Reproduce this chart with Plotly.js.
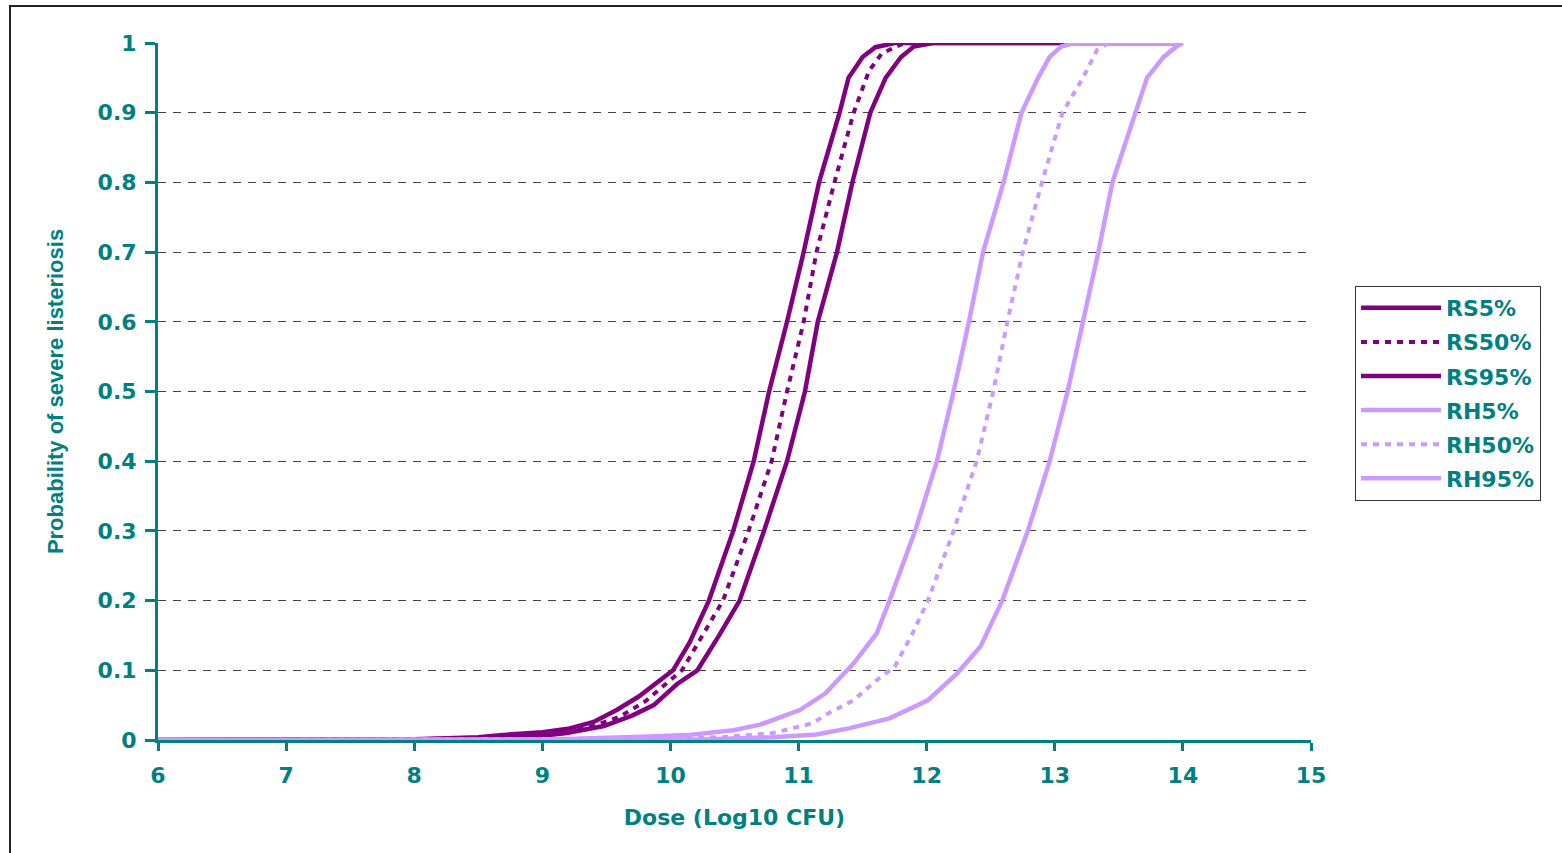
<!DOCTYPE html>
<html>
<head>
<meta charset="utf-8">
<script src="https://cdn.plot.ly/plotly-3.0.1.min.js"></script>
<style>
  html, body { margin: 0; padding: 0; background: #fff; }
  #chart { width: 1562px; height: 853px; }
</style>
</head>
<body>
<div id="chart"></div>
<script>
// ---- data ----
const seriesNames = ["RS5%", "RS50%", "RS95%", "RH5%", "RH50%", "RH95%"];

const rs5Dose = [6, 7.5, 8.0, 8.5, 8.67, 9.0, 9.2, 9.4, 9.58, 9.75, 9.92, 10.02, 10.15, 10.3, 10.49, 10.65, 10.77, 10.91, 11.04, 11.16, 11.32, 11.39, 11.5, 11.6, 11.75, 14];
const rs5Prob = [0, 0, 0.001, 0.004, 0.007, 0.011, 0.016, 0.026, 0.043, 0.062, 0.086, 0.1, 0.14, 0.2, 0.3, 0.4, 0.5, 0.6, 0.7, 0.8, 0.9, 0.95, 0.98, 0.994, 1, 1];

const rs50Dose = [6, 7.5, 8.0, 8.5, 9.0, 9.4, 9.6, 9.8, 10.09, 10.25, 10.41, 10.61, 10.79, 10.91, 11.04, 11.14, 11.28, 11.43, 11.55, 11.65, 11.8, 11.9, 14];
const rs50Prob = [0, 0, 0.001, 0.003, 0.009, 0.02, 0.033, 0.055, 0.1, 0.15, 0.2, 0.3, 0.4, 0.5, 0.6, 0.7, 0.8, 0.9, 0.96, 0.985, 0.998, 1, 1];

const rs95Dose = [6, 7.5, 8.0, 8.5, 9.0, 9.19, 9.48, 9.7, 9.87, 10.05, 10.21, 10.38, 10.54, 10.73, 10.91, 11.05, 11.15, 11.3, 11.42, 11.56, 11.68, 11.8, 11.9, 12.05, 14];
const rs95Prob = [0, 0, 0.0005, 0.002, 0.006, 0.01, 0.02, 0.035, 0.05, 0.08, 0.1, 0.15, 0.2, 0.3, 0.4, 0.5, 0.6, 0.7, 0.8, 0.9, 0.95, 0.98, 0.995, 1, 1];

const rh5Dose = [6, 9.0, 9.84, 10.13, 10.49, 10.7, 11.01, 11.21, 11.43, 11.61, 11.71, 11.91, 12.08, 12.21, 12.33, 12.44, 12.6, 12.74, 12.87, 12.96, 13.05, 13.15, 14];
const rh5Prob = [0, 0.0005, 0.005, 0.007, 0.014, 0.022, 0.043, 0.067, 0.11, 0.153, 0.2, 0.3, 0.4, 0.5, 0.6, 0.7, 0.8, 0.9, 0.95, 0.98, 0.995, 1, 1];

const rh50Dose = [6, 9.5, 10.0, 10.4, 10.8, 11.11, 11.21, 11.43, 11.61, 11.75, 11.89, 12.01, 12.21, 12.39, 12.52, 12.63, 12.75, 12.9, 13.06, 13.22, 13.33, 13.42, 14];
const rh50Prob = [0, 0.0005, 0.002, 0.004, 0.01, 0.024, 0.036, 0.057, 0.086, 0.105, 0.153, 0.2, 0.3, 0.4, 0.5, 0.6, 0.7, 0.8, 0.9, 0.95, 0.99, 1, 1];

const rh95Dose = [6, 10.3, 10.8, 11.14, 11.4, 11.71, 12.01, 12.24, 12.42, 12.59, 12.79, 12.96, 13.1, 13.22, 13.34, 13.45, 13.63, 13.72, 13.85, 13.95, 14];
const rh95Prob = [0, 0.001, 0.004, 0.008, 0.017, 0.031, 0.057, 0.096, 0.134, 0.2, 0.3, 0.4, 0.5, 0.6, 0.7, 0.8, 0.9, 0.95, 0.98, 0.995, 1];

const xTickVals = [6, 7, 8, 9, 10, 11, 12, 13, 14, 15];
const yTickVals = [0, 0.1, 0.2, 0.3, 0.4, 0.5, 0.6, 0.7, 0.8, 0.9, 1];
const xTitle = "Dose (Log10 CFU)";
const yTitle = "Probability of severe listeriosis";

// ---- styles ----
const PURPLE = "#800080";
const LAVENDER = "#CC99FF";
const TEAL = "#008080";
const FONT = "DejaVu Sans, Arial, sans-serif";

const doses = [rs5Dose, rs50Dose, rs95Dose, rh5Dose, rh50Dose, rh95Dose];
const probs = [rs5Prob, rs50Prob, rs95Prob, rh5Prob, rh50Prob, rh95Prob];
const colors = [PURPLE, PURPLE, PURPLE, LAVENDER, LAVENDER, LAVENDER];
const dashes = ["solid", "6px,6px", "solid", "solid", "6px,6px", "solid"];
const widths = [4.5, 4, 4.5, 4.5, 4, 4.5];

const traces = seriesNames.map((n, i) => ({
  type: "scatter",
  mode: "lines",
  name: n,
  legendgroup: "g" + i,
  x: doses[i],
  y: probs[i],
  line: { color: colors[i], width: widths[i], dash: dashes[i] },
  hoverinfo: "skip"
}));

const W = 1562, H = 853;
const L = 158, R = 251, T = 43, B = 113;
const pw = W - L - R, ph = H - T - B;
const px = v => (v - L) / pw;
const py = v => (H - B - v) / ph;

const layout = {
  width: W, height: H,
  margin: { l: L, r: R, t: T, b: B, pad: 0 },
  paper_bgcolor: "#ffffff",
  plot_bgcolor: "#ffffff",
  font: { family: FONT, color: TEAL },
  showlegend: true,
  legend: {
    x: px(1355), y: py(286), xanchor: "left", yanchor: "top",
    bgcolor: "#ffffff", bordercolor: "#333333", borderwidth: 1,
    font: { family: FONT, size: 22, color: TEAL, weight: "bold" },
    tracegroupgap: 2.5,
    itemwidth: 80,
    entrywidth: 130,
    traceorder: "grouped"
  },
  xaxis: {
    range: [6, 15],
    tickvals: xTickVals,
    ticktext: xTickVals.map(String),
    showgrid: false,
    zeroline: false,
    showline: true, linecolor: TEAL, linewidth: 3,
    ticks: "outside", ticklen: 8, tickwidth: 3, tickcolor: TEAL,
    ticklabelstandoff: 6,
    tickfont: { family: FONT, size: 22, color: TEAL, weight: "bold" },
    title: { text: xTitle, font: { family: FONT, size: 22, color: TEAL, weight: "bold" }, standoff: 23 },
    fixedrange: true
  },
  yaxis: {
    range: [0, 1],
    tickvals: yTickVals,
    ticktext: yTickVals.map(String),
    showgrid: true, gridcolor: "#444444", gridwidth: 1, griddash: "8px,7px",
    zeroline: false,
    showline: true, linecolor: TEAL, linewidth: 3,
    ticks: "outside", ticklen: 10, tickwidth: 3, tickcolor: TEAL,
    ticklabelstandoff: 4,
    tickfont: { family: FONT, size: 22, color: TEAL, weight: "bold" },
    title: { text: yTitle, font: { family: "Liberation Sans Narrow, Arial Narrow, Liberation Sans, sans-serif", size: 22, color: TEAL, weight: "bold" }, standoff: 28 },
    fixedrange: true
  },
  shapes: [
    { type: "rect", xref: "paper", yref: "paper",
      x0: px(10), x1: px(1600), y0: py(900), y1: py(6),
      line: { color: "#222222", width: 2 }, fillcolor: "rgba(0,0,0,0)", layer: "below" }
  ]
};

Plotly.newPlot("chart", traces, layout, { staticPlot: true, displayModeBar: false });
</script>
</body>
</html>
